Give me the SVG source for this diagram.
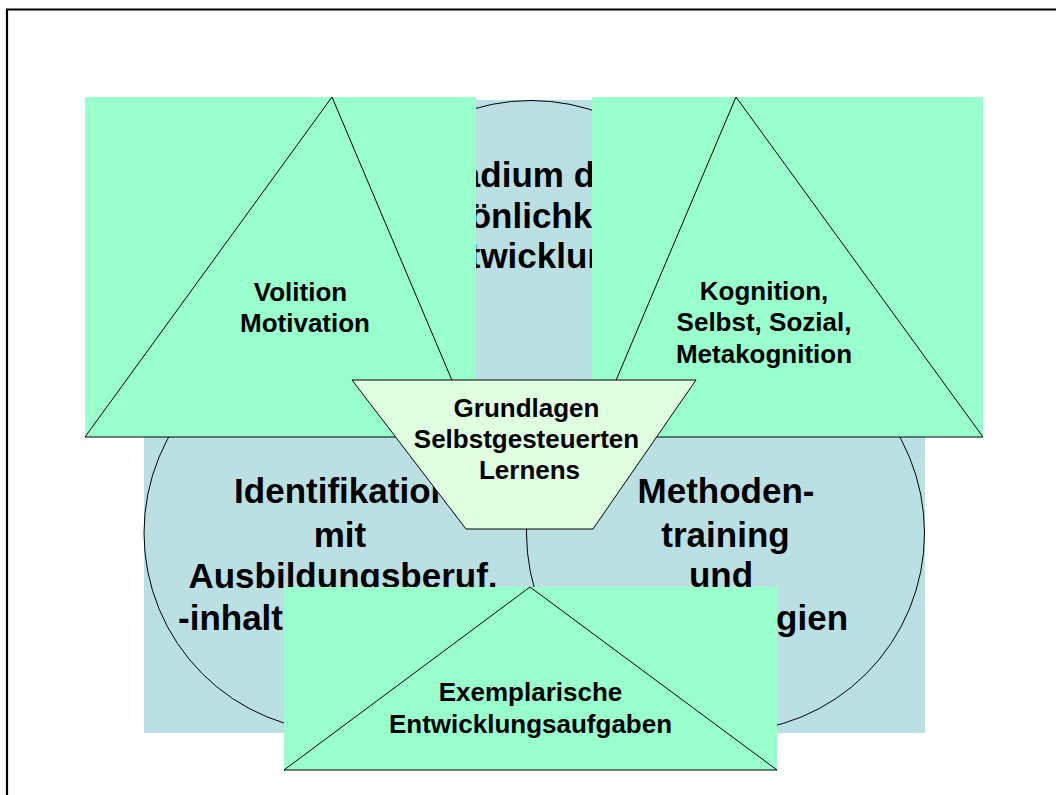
<svg xmlns="http://www.w3.org/2000/svg" width="1056" height="795" viewBox="0 0 1056 795">
  <style>
    .zone { fill: #BBE0E3; }
    .ring { fill: none; stroke: #000; stroke-width: 1; }
    .pane { fill: #99FFCC; }
    .tri { fill: #99FFCC; stroke: #000; stroke-width: 1; stroke-linejoin: miter; }
    .funnel { fill: #E0FFE0; stroke: #000; stroke-width: 1; }
    text { font-family: "Liberation Sans", Arial, Helvetica, sans-serif; font-weight: bold; fill: #000; text-anchor: middle; }
    .big { font-size: 35px; }
    .small { font-size: 26px; }
  </style>

  <rect x="0" y="0" width="1056" height="795" fill="#fff"/>
  <!-- page frame -->
  <path d="M7,800 V9.5 H1060" fill="none" stroke="#000" stroke-width="2.2"/>

  <!-- circle: personality development (behind everything) -->
  <g id="circle-top">
    <rect class="zone" x="332" y="100" width="398" height="398"/>
    <circle class="ring" cx="531" cy="299.5" r="199" stroke-width="1.6"/>
    <text class="big" x="527" y="187">Stadium der</text>
    <text class="big" x="529" y="228">Persönlichkeits-</text>
    <text class="big" x="529" y="268">entwicklung</text>
  </g>

  <!-- circle: identification with the trade -->
  <g id="circle-left">
    <rect class="zone" x="144" y="334" width="398" height="399"/>
    <circle class="ring" cx="343" cy="533" r="199"/>
    <text class="big" x="343" y="503">Identifikation</text>
    <text class="big" x="340" y="547">mit</text>
    <text class="big" x="343" y="588">Ausbildungsberuf.</text>
    <text class="big" x="178" y="630" text-anchor="start" style="text-anchor:start">-inhalt</text>
  </g>

  <!-- circle: method training -->
  <g id="circle-right">
    <rect class="zone" x="526" y="334" width="399" height="399"/>
    <circle class="ring" cx="725.5" cy="533" r="199"/>
    <text class="big" x="726" y="503">Methoden-</text>
    <text class="big" x="725.5" y="547">training</text>
    <text class="big" x="721" y="587">und</text>
    <text class="big" x="726.5" y="630">Lernstrategien</text>
  </g>

  <!-- triangle: volition / motivation -->
  <g id="tri-volition">
    <rect class="pane" x="85" y="97" width="391" height="340"/>
    <polygon class="tri" points="332,97 476,437 85,437"/>
    <text class="small" x="300.5" y="300.5">Volition</text>
    <text class="small" x="305" y="332">Motivation</text>
  </g>

  <!-- triangle: cognition -->
  <g id="tri-kognition">
    <rect class="pane" x="592" y="97" width="391" height="340"/>
    <polygon class="tri" points="736,97 983,437 592,437"/>
    <text class="small" x="764" y="300">Kognition,</text>
    <text class="small" x="764" y="331">Selbst, Sozial,</text>
    <text class="small" x="764" y="363">Metakognition</text>
  </g>

  <!-- inverted trapezoid: foundations of self-directed learning -->
  <g id="funnel-grundlagen">
    <polygon class="funnel" points="352,380 696,380 593,529 466,529"/>
    <text class="small" x="526.5" y="417">Grundlagen</text>
    <text class="small" x="526.5" y="448">Selbstgesteuerten</text>
    <text class="small" x="529.5" y="479">Lernens</text>
  </g>

  <!-- triangle: exemplary development tasks -->
  <g id="tri-aufgaben">
    <rect class="pane" x="284" y="587" width="493" height="183"/>
    <polygon class="tri" points="530,587 777,770 284,770"/>
    <text class="small" x="530.5" y="701">Exemplarische</text>
    <text class="small" x="530.5" y="733">Entwicklungsaufgaben</text>
  </g>

  <g id="connectors"/>
</svg>
